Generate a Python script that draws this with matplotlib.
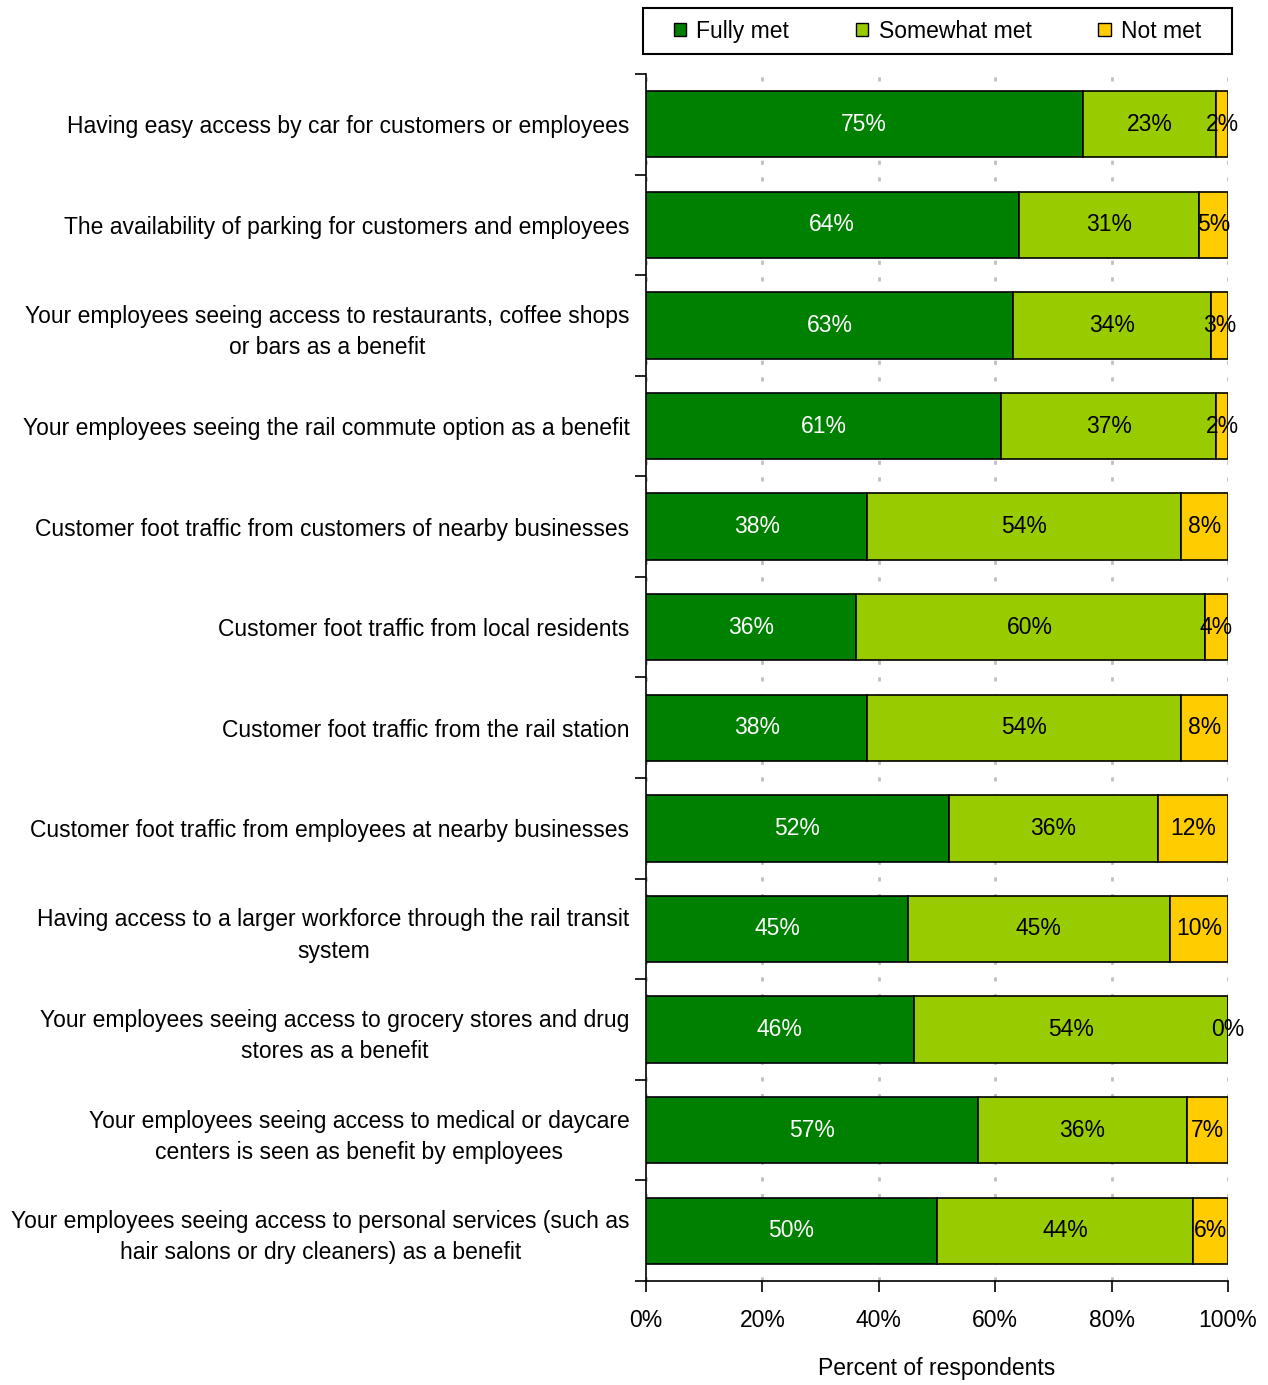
import numpy as np
import matplotlib.pyplot as plt
from matplotlib.patches import Patch, Rectangle

plt.rcParams['font.family'] = ['Liberation Sans', 'DejaVu Sans']

# ── Data ──────────────────────────────────────────────────────
categories = [
    "Having easy access by car for customers or employees",
    "The availability of parking for customers and employees",
    "Your employees seeing access to restaurants, coffee shops\nor bars as a benefit",
    "Your employees seeing the rail commute option as a benefit",
    "Customer foot traffic from customers of nearby businesses",
    "Customer foot traffic from local residents",
    "Customer foot traffic from the rail station",
    "Customer foot traffic from employees at nearby businesses",
    "Having access to a larger workforce through the rail transit\nsystem",
    "Your employees seeing access to grocery stores and drug\nstores as a benefit",
    "Your employees seeing access to medical or daycare\ncenters is seen as benefit by employees",
    "Your employees seeing access to personal services (such as\nhair salons or dry cleaners) as a benefit",
]
fully_met    = [75, 64, 63, 61, 38, 36, 38, 52, 45, 46, 57, 50]
somewhat_met = [23, 31, 34, 37, 54, 60, 54, 36, 45, 54, 36, 44]
not_met      = [2, 5, 3, 2, 8, 4, 8, 12, 10, 0, 7, 6]

series = [
    ("Fully met", fully_met, "#008000", "white"),
    ("Somewhat met", somewhat_met, "#99CC00", "black"),
    ("Not met", not_met, "#FFCC00", "black"),
]

# ── Plot ──────────────────────────────────────────────────────
fig = plt.figure(figsize=(12.68, 13.85), dpi=100)
ax = fig.add_axes([0.5095, 0.0751, 0.459, 0.8715])

n = len(categories)
y = np.arange(n)
left = np.zeros(n)
fs = 16.5

for name, vals, col, tcol in series:
    vals = np.array(vals, dtype=float)
    ax.barh(y, vals, left=left, height=0.66, color=col,
            edgecolor="black", linewidth=1.2, zorder=3)
    for yi, (l, v) in enumerate(zip(left, vals)):
        ax.text(l + v / 2, yi, f"{v:.0f}%", ha="center", va="center",
                color=tcol, fontsize=fs, zorder=4)
    left += vals

ax.set_xlim(0, 100)
ax.set_ylim(n - 0.5, -0.5)

# category boundaries carry the tick marks, centres carry the labels
ax.set_yticks(np.arange(n + 1) - 0.5)
ax.set_yticklabels([])
ax.set_yticks(y, minor=True)
ax.set_yticklabels(categories, minor=True, fontsize=fs)
for lbl in ax.get_yticklabels(minor=True):
    lbl.set_multialignment("center")
    lbl.set_linespacing(1.45)
ax.tick_params(axis="y", which="major", length=8, width=1.2, direction="out")
ax.tick_params(axis="y", which="minor", length=0, pad=12)

ax.set_xticks(np.arange(0, 101, 20))
ax.set_xticklabels([f"{t}%" for t in range(0, 101, 20)], fontsize=fs)
ax.tick_params(axis="x", length=8, width=1.2, direction="out", pad=12)
ax.set_xlabel("Percent of respondents", fontsize=fs, labelpad=18)

for sp in ["top", "right"]:
    ax.spines[sp].set_visible(False)
for sp in ["left", "bottom"]:
    ax.spines[sp].set_linewidth(1.2)

ax.grid(axis="x", color="#C0C0C0", linestyle=(0, (1.5, 4.5)), linewidth=2, zorder=0)

# legend box drawn separately so its padding can be wider than tall
box = (0.507, 0.961, 0.4645, 0.033)
fig.patches.append(Rectangle(box[:2], box[2], box[3], transform=fig.transFigure,
                             facecolor="white", edgecolor="black", linewidth=1.5))
handles = [Patch(facecolor=c, edgecolor="black", label=nm) for nm, _, c, _ in series]
fig.legend(handles=handles, loc="center", ncol=3,
           bbox_to_anchor=(box[0] + box[2] / 2, box[1] + box[3] / 2),
           frameon=False, fontsize=fs, handlelength=0.55, handleheight=0.55,
           handletextpad=0.45, columnspacing=2.9, borderaxespad=0, borderpad=0)

fig.savefig("out.png", dpi=100)
